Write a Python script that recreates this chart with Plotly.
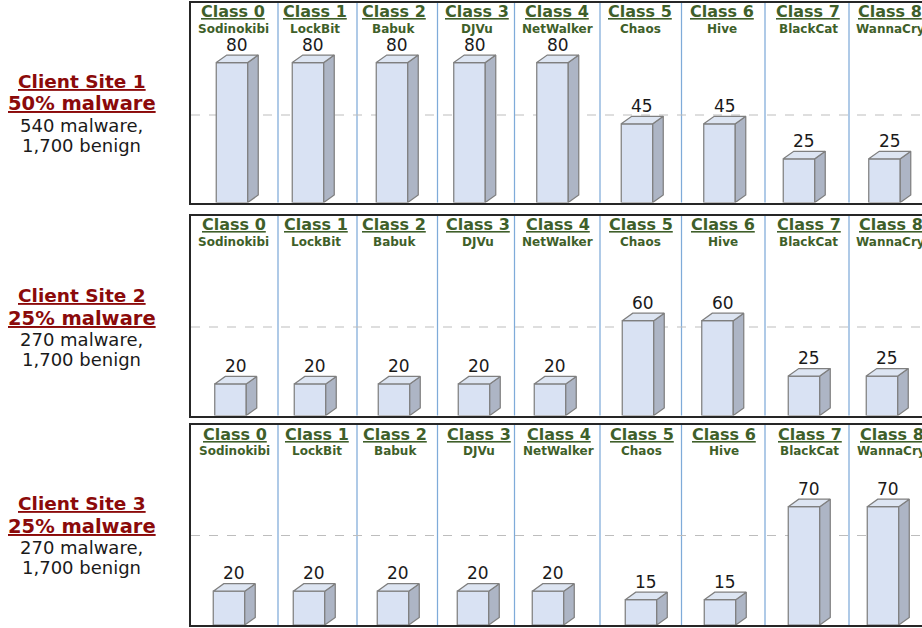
import plotly.graph_objects as go

# ---- data ----
class_names = ["Class 0", "Class 1", "Class 2", "Class 3", "Class 4", "Class 5", "Class 6", "Class 7", "Class 8"]
family_names = ["Sodinokibi", "LockBit", "Babuk", "DJVu", "NetWalker", "Chaos", "Hive", "BlackCat", "WannaCry"]
site1_values = [80, 80, 80, 80, 80, 45, 45, 25, 25]
site2_values = [20, 20, 20, 20, 20, 60, 60, 25, 25]
site3_values = [20, 20, 20, 20, 20, 15, 15, 70, 70]
site_titles = ["Client Site 1", "Client Site 2", "Client Site 3"]
site_shares = ["50% malware", "25% malware", "25% malware"]
site_malware = ["540 malware,", "270 malware,", "270 malware,"]
site_benign = ["1,700 benign", "1,700 benign", "1,700 benign"]

# ---- layout constants (pixels of the 922x628 page) ----
W, H = 922, 628
LEFT = 191
panel_top = [2.5, 215.5, 425]
panel_bottom = [202.5, 415.5, 625]
px_per_unit = [1.75, 1.58, 1.69]
guide_px = [115, 327, 535.5]
dividers = [278, 357, 437.5, 514.5, 600, 681.5, 765, 849]
bar_centers = [
    [232, 308, 392, 469.5, 552.5, 637, 719.5, 799, 884.5],
    [230.5, 310, 394, 474, 550, 638, 717.5, 804, 882],
    [229, 309, 393, 473, 548, 641, 720, 804, 883],
]
class_x = [233, 315, 393.5, 477, 557, 640, 722, 808, 890]
BAR_W = 31.5
DEPTH_X, DEPTH_Y = 10.5, 7.5
FRONT, SIDE, TOP_FACE, EDGE = "#d9e2f3", "#adb5c5", "#dde5f2", "#7f7f7f"
GREEN, RED, BLACK = "#3f5f2a", "#8b0a0a", "#1a1a1a"
FONT = "DejaVu Sans"

fig = go.Figure()
all_values = [site1_values, site2_values, site3_values]
annotations, shapes, layout_axes = [], [], {}

for p, values in enumerate(all_values):
    suffix = "" if p == 0 else str(p + 1)
    xa, ya = "x" + suffix, "y" + suffix
    span_px = panel_bottom[p] - panel_top[p]
    scale = px_per_unit[p]
    dy = DEPTH_Y / scale
    centers = bar_centers[p]

    fig.add_trace(go.Bar(x=centers, y=values, width=BAR_W, xaxis=xa, yaxis=ya,
                         marker=dict(color=FRONT, line=dict(color=EDGE, width=1.25)),
                         hoverinfo="skip", showlegend=False))

    side_x, side_y, top_x, top_y = [], [], [], []
    for c, v in zip(centers, values):
        l, r = c - BAR_W / 2, c + BAR_W / 2
        side_x += [r, r + DEPTH_X, r + DEPTH_X, r, r, None]
        side_y += [0, dy, v + dy, v, 0, None]
        top_x += [l, l + DEPTH_X, r + DEPTH_X, r, l, None]
        top_y += [v, v + dy, v + dy, v, v, None]
    for xs, ys, col in ((side_x, side_y, SIDE), (top_x, top_y, TOP_FACE)):
        fig.add_trace(go.Scatter(x=xs, y=ys, xaxis=xa, yaxis=ya, mode="lines", fill="toself",
                                 fillcolor=col, line=dict(color=EDGE, width=1.25),
                                 hoverinfo="skip", showlegend=False, cliponaxis=False))

    # value labels
    for c, v in zip(centers, values):
        annotations.append(dict(x=c, y=v, xref=xa, yref=ya, text=str(v), showarrow=False,
                                xshift=5, yshift=18, xanchor="center", yanchor="middle",
                                font=dict(family=FONT, size=17, color=BLACK)))

    # class headers
    off = [0, 0.5, 1.5][p]
    for i in range(len(class_names)):
        annotations.append(dict(x=class_x[i] + off, y=1 - (panel_top[p] + 9.5) / H, xref="x" + suffix, yref="paper",
                                text="<u>%s</u>" % class_names[i], showarrow=False,
                                xanchor="center", yanchor="middle",
                                font=dict(family=FONT, size=16, color=GREEN, weight="bold")))
        annotations.append(dict(x=class_x[i] + off, y=1 - (panel_top[p] + 26) / H, xref="x" + suffix, yref="paper",
                                text=family_names[i], showarrow=False,
                                xanchor="center", yanchor="middle",
                                font=dict(family=FONT, size=12, color=GREEN, weight="bold")))

    # left-hand site captions
    mid = [81, 295, 503][p]
    cap_x = 81.5 / W
    for k, (txt, fs, col, bold, shift) in enumerate((
        ("<u>%s</u>" % site_titles[p], 18.5, RED, True, 0),
        ("<u>%s</u>" % site_shares[p], 19.5, RED, True, 23),
        (site_malware[p], 18, BLACK, False, 44),
        (site_benign[p], 18, BLACK, False, 64),
    )):
        annotations.append(dict(x=cap_x, y=1 - (mid + shift) / H, xref="paper", yref="paper", text=txt,
                                showarrow=False, xanchor="center", yanchor="middle",
                                font=dict(family=FONT, size=fs, color=col, weight="bold" if bold else "normal")))

    # dividers and dashed guide
    for d in dividers:
        shapes.append(dict(type="line", xref=xa, yref=ya + " domain", x0=d, x1=d, y0=0, y1=1,
                           layer="below", line=dict(color="#7fabd9", width=1.25)))
    g = (panel_bottom[p] - guide_px[p]) / scale
    shapes.append(dict(type="line", xref=xa + " domain", yref=ya, x0=0, x1=1, y0=g, y1=g,
                       layer="below", line=dict(color="#bdbdbd", width=1, dash="dash")))

    layout_axes["xaxis" + suffix] = dict(domain=[LEFT / W, 1], range=[LEFT, W], showgrid=False, zeroline=False,
                                         showticklabels=False, ticks="", showline=True, mirror=True,
                                         linecolor="#262626", linewidth=1.75, fixedrange=True, anchor=ya)
    layout_axes["yaxis" + suffix] = dict(domain=[1 - panel_bottom[p] / H, 1 - panel_top[p] / H],
                                         range=[0, span_px / scale], showgrid=False, zeroline=False,
                                         showticklabels=False, ticks="", showline=True, mirror=False,
                                         linecolor="#262626", linewidth=1.75, fixedrange=True, anchor=xa)

fig.update_layout(width=W, height=H, margin=dict(l=0, r=0, t=0, b=0, pad=0, autoexpand=False),
                  paper_bgcolor="white", plot_bgcolor="white", showlegend=False, barmode="overlay",
                  annotations=annotations, shapes=shapes, font=dict(family=FONT), **layout_axes)

fig.write_html("out.html", config=dict(displayModeBar=False, responsive=False),
               post_script="document.body.style.margin='0';document.body.style.overflow='hidden';")
